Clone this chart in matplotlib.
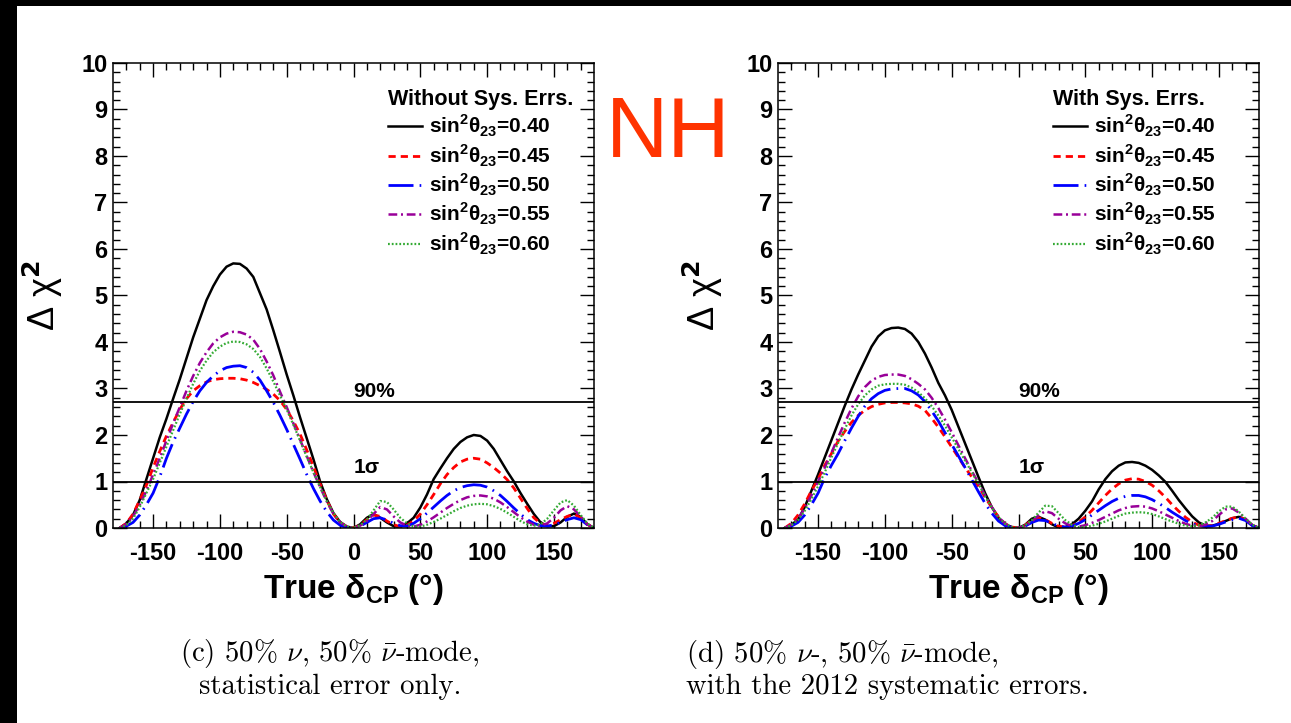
import matplotlib
matplotlib.use('Agg')
import matplotlib.pyplot as plt
from matplotlib.patches import Rectangle

plt.rcParams['font.family'] = ['Liberation Sans', 'DejaVu Sans']
plt.rcParams['font.weight'] = 'bold'
plt.rcParams['axes.unicode_minus'] = False

# ---------------- data ----------------
delta_cp = [-175, -170, -165, -160, -155, -150, -145, -140, -135, -130,
            -125, -120, -115, -110, -105, -100, -95, -90, -85, -80,
            -75, -70, -65, -60, -55, -50, -45, -40, -35, -30,
            -25, -20, -15, -10, -5, 0,
            5, 10, 15, 20, 25, 30, 35, 40, 45, 50,
            55, 60, 65, 70, 75, 80, 85, 90, 95, 100,
            105, 110, 115, 120, 125, 130, 135, 140, 145, 150,
            155, 160, 165, 170, 175, 180]

sin2_values = ['0.40', '0.45', '0.50', '0.55', '0.60']

# Without systematic errors
nosys_040 = [0.0, 0.1, 0.28, 0.6, 1.05, 1.5, 1.95, 2.35, 2.78, 3.2, 3.65, 4.1, 4.5, 4.9, 5.2, 5.45, 5.62, 5.69,
             5.68, 5.58, 5.4, 5.05, 4.7, 4.25, 3.78, 3.3, 2.85, 2.38, 1.93, 1.48, 1.0, 0.62, 0.32, 0.13, 0.03, 0.0,
             0.08, 0.22, 0.3, 0.22, 0.12, 0.04, 0.02, 0.1, 0.22, 0.44, 0.72, 1.05, 1.28, 1.5, 1.7, 1.85, 1.95, 2.0,
             1.98, 1.88, 1.7, 1.46, 1.22, 1.0, 0.75, 0.52, 0.3, 0.12, 0.04, 0.04, 0.12, 0.24, 0.31, 0.24, 0.08, 0.0]
nosys_045 = [0.0, 0.1, 0.3, 0.6, 0.92, 1.3, 1.65, 1.98, 2.27, 2.55, 2.78, 2.95, 3.06, 3.14, 3.19, 3.21, 3.22, 3.22,
             3.21, 3.18, 3.13, 3.06, 2.98, 2.88, 2.74, 2.55, 2.3, 2.02, 1.68, 1.32, 0.95, 0.6, 0.3, 0.12, 0.03, 0.0,
             0.06, 0.18, 0.28, 0.25, 0.15, 0.07, 0.03, 0.06, 0.15, 0.3, 0.5, 0.72, 0.95, 1.15, 1.3, 1.42, 1.48, 1.5,
             1.48, 1.4, 1.3, 1.18, 1.04, 0.86, 0.64, 0.42, 0.22, 0.1, 0.05, 0.1, 0.18, 0.25, 0.3, 0.22, 0.08, 0.0]
nosys_050 = [0.0, 0.04, 0.12, 0.28, 0.5, 0.75, 1.1, 1.5, 1.85, 2.15, 2.45, 2.72, 2.95, 3.13, 3.27, 3.38, 3.45, 3.48,
             3.49, 3.45, 3.35, 3.18, 2.95, 2.7, 2.42, 2.12, 1.8, 1.48, 1.15, 0.85, 0.58, 0.35, 0.17, 0.06, 0.01, 0.0,
             0.04, 0.12, 0.2, 0.22, 0.17, 0.1, 0.05, 0.04, 0.1, 0.2, 0.32, 0.45, 0.58, 0.7, 0.8, 0.87, 0.91, 0.93,
             0.92, 0.88, 0.8, 0.7, 0.57, 0.43, 0.3, 0.18, 0.1, 0.05, 0.04, 0.07, 0.12, 0.18, 0.22, 0.18, 0.07, 0.0]
nosys_055 = [0.0, 0.08, 0.25, 0.5, 0.8, 1.15, 1.5, 1.88, 2.25, 2.6, 2.95, 3.27, 3.55, 3.78, 3.97, 4.1, 4.18, 4.22,
             4.21, 4.16, 4.05, 3.85, 3.58, 3.28, 2.93, 2.6, 2.25, 1.9, 1.55, 1.2, 0.88, 0.57, 0.3, 0.12, 0.03, 0.0,
             0.05, 0.15, 0.3, 0.45, 0.4, 0.25, 0.12, 0.05, 0.03, 0.07, 0.14, 0.23, 0.33, 0.43, 0.52, 0.6, 0.66, 0.69,
             0.7, 0.68, 0.63, 0.55, 0.45, 0.34, 0.23, 0.14, 0.07, 0.05, 0.1, 0.22, 0.38, 0.47, 0.4, 0.25, 0.08, 0.0]
nosys_060 = [0.0, 0.06, 0.2, 0.45, 0.75, 1.05, 1.4, 1.75, 2.1, 2.45, 2.78, 3.1, 3.38, 3.6, 3.78, 3.9, 3.98, 4.01,
             4.0, 3.95, 3.85, 3.68, 3.43, 3.15, 2.85, 2.55, 2.22, 1.88, 1.53, 1.2, 0.88, 0.58, 0.32, 0.13, 0.03, 0.0,
             0.06, 0.18, 0.38, 0.58, 0.56, 0.4, 0.22, 0.1, 0.03, 0.03, 0.07, 0.13, 0.2, 0.28, 0.36, 0.43, 0.48, 0.51,
             0.52, 0.51, 0.47, 0.41, 0.33, 0.24, 0.15, 0.08, 0.05, 0.08, 0.2, 0.38, 0.55, 0.6, 0.48, 0.28, 0.1, 0.0]

# With systematic errors
sys_040 = [0.0, 0.07, 0.18, 0.45, 0.8, 1.15, 1.52, 1.89, 2.26, 2.63, 2.98, 3.3, 3.6, 3.9, 4.12, 4.25, 4.3, 4.31,
           4.28, 4.18, 4.0, 3.75, 3.45, 3.12, 2.85, 2.54, 2.18, 1.82, 1.46, 1.1, 0.75, 0.45, 0.22, 0.08, 0.02, 0.0,
           0.07, 0.2, 0.24, 0.18, 0.08, 0.01, 0.02, 0.08, 0.2, 0.37, 0.57, 0.83, 1.05, 1.22, 1.34, 1.41, 1.42, 1.4,
           1.34, 1.25, 1.13, 0.99, 0.8, 0.6, 0.42, 0.25, 0.12, 0.05, 0.05, 0.09, 0.15, 0.21, 0.24, 0.18, 0.06, 0.0]
sys_045 = [0.0, 0.1, 0.28, 0.52, 0.8, 1.05, 1.35, 1.6, 1.87, 2.08, 2.27, 2.42, 2.53, 2.61, 2.66, 2.69, 2.7, 2.7,
           2.69, 2.67, 2.62, 2.53, 2.36, 2.17, 1.96, 1.74, 1.52, 1.3, 1.1, 0.9, 0.66, 0.44, 0.24, 0.09, 0.02, 0.0,
           0.06, 0.17, 0.22, 0.18, 0.1, 0.04, 0.02, 0.05, 0.12, 0.24, 0.38, 0.54, 0.7, 0.84, 0.95, 1.03, 1.06, 1.05,
           1.0, 0.92, 0.8, 0.66, 0.5, 0.36, 0.23, 0.13, 0.06, 0.03, 0.05, 0.1, 0.16, 0.21, 0.24, 0.18, 0.06, 0.0]
sys_050 = [0.0, 0.04, 0.12, 0.28, 0.5, 0.75, 1.08, 1.35, 1.6, 1.88, 2.15, 2.4, 2.62, 2.78, 2.89, 2.96, 2.99, 3.0,
           3.0, 2.95, 2.86, 2.72, 2.52, 2.3, 2.05, 1.8, 1.55, 1.3, 1.04, 0.78, 0.53, 0.32, 0.15, 0.05, 0.01, 0.0,
           0.04, 0.12, 0.17, 0.16, 0.1, 0.04, 0.02, 0.04, 0.1, 0.18, 0.28, 0.38, 0.48, 0.57, 0.64, 0.68, 0.7, 0.7,
           0.67, 0.61, 0.53, 0.44, 0.34, 0.25, 0.16, 0.09, 0.05, 0.03, 0.04, 0.08, 0.13, 0.18, 0.21, 0.16, 0.05, 0.0]
sys_055 = [0.0, 0.07, 0.2, 0.42, 0.7, 1.0, 1.3, 1.62, 1.95, 2.27, 2.57, 2.83, 3.03, 3.17, 3.25, 3.29, 3.3, 3.3,
           3.27, 3.2, 3.1, 2.98, 2.8, 2.58, 2.33, 2.06, 1.78, 1.5, 1.23, 0.97, 0.7, 0.45, 0.24, 0.09, 0.02, 0.0,
           0.05, 0.14, 0.27, 0.36, 0.32, 0.2, 0.1, 0.04, 0.03, 0.06, 0.11, 0.17, 0.24, 0.31, 0.38, 0.43, 0.46, 0.47,
           0.46, 0.42, 0.36, 0.29, 0.22, 0.15, 0.09, 0.05, 0.04, 0.07, 0.15, 0.28, 0.4, 0.42, 0.33, 0.2, 0.06, 0.0]
sys_060 = [0.0, 0.06, 0.17, 0.37, 0.62, 0.9, 1.2, 1.52, 1.83, 2.13, 2.42, 2.66, 2.85, 2.98, 3.06, 3.09, 3.1, 3.1,
           3.08, 3.02, 2.92, 2.79, 2.62, 2.42, 2.2, 1.95, 1.7, 1.45, 1.2, 0.95, 0.68, 0.44, 0.23, 0.09, 0.02, 0.0,
           0.06, 0.17, 0.33, 0.48, 0.47, 0.32, 0.17, 0.07, 0.02, 0.02, 0.05, 0.09, 0.14, 0.2, 0.26, 0.31, 0.33, 0.34,
           0.33, 0.3, 0.25, 0.19, 0.14, 0.09, 0.05, 0.04, 0.06, 0.12, 0.22, 0.36, 0.46, 0.46, 0.35, 0.2, 0.07, 0.0]

cl_90 = 2.71
cl_1sigma = 1.0

panels = [
    dict(title='Without Sys. Errs.', series=[nosys_040, nosys_045, nosys_050, nosys_055, nosys_060]),
    dict(title='With Sys. Errs.', series=[sys_040, sys_045, sys_050, sys_055, sys_060]),
]

styles = [
    dict(color='black', lw=1.8, ls='-'),
    dict(color='#FF0000', lw=2.0, ls=(0, (2.6, 1.8))),
    dict(color='#0000FF', lw=2.0, ls=(0, (9.0, 2.2, 0.6, 2.2))),
    dict(color='#990099', lw=1.8, ls=(0, (3.5, 1.5, 0.8, 1.5))),
    dict(color='#33AA33', lw=1.6, ls=(0, (0.8, 0.9))),
]

W, H = 1291, 723
fig = plt.figure(figsize=(W / 100, H / 100), dpi=100)
fig.patch.set_facecolor('white')

axes_left_px = [113, 778]
for i, p in enumerate(panels):
    ax = fig.add_axes([axes_left_px[i] / W, 195 / H, 481 / W, 465 / H])
    handles = []
    for s, st, lab in zip(p['series'], styles, sin2_values):
        ln, = ax.plot(delta_cp, s, color=st['color'], lw=st['lw'], ls=st['ls'],
                      label=r'sin$^{\mathregular{2}}$θ$_{\mathregular{23}}$=' + lab)
        handles.append(ln)
    ax.axhline(cl_90, color='black', lw=1.3)
    ax.axhline(cl_1sigma, color='black', lw=1.3)
    ax.text(0, 2.82, '90%', fontsize=15, fontweight='bold', ha='left', va='baseline')
    ax.text(0, 1.18, '1σ', fontsize=15, fontweight='bold', ha='left', va='baseline')

    ax.set_xlim(-180, 180)
    ax.set_ylim(0, 10)
    ax.set_xticks([-150, -100, -50, 0, 50, 100, 150])
    ax.set_xticks(list(range(-170, 180, 10)), minor=True)
    ax.set_yticks(list(range(0, 11)))
    ax.set_yticks([k * 0.2 for k in range(51)], minor=True)
    ax.tick_params(which='both', direction='in', top=True, right=True, width=1.0)
    ax.tick_params(which='major', length=10)
    ax.tick_params(which='minor', length=5)
    ax.tick_params(axis='x', labelsize=17, pad=10)
    ax.tick_params(axis='y', labelsize=17, pad=4)
    for sp in ax.spines.values():
        sp.set_linewidth(1.1)

    ax.set_xlabel(r'True δ$_{\mathregular{CP}}$ (°)', fontsize=24, fontweight='bold')
    ax.xaxis.set_label_coords(0.5, -0.095)
    ax.set_ylabel(r'Δ χ$^{\mathbf{2}}$', fontsize=26, fontweight='normal')
    ax.yaxis.set_label_coords(-0.10 if i == 0 else -0.11, 0.5)

    leg = ax.legend(handles=handles, loc='upper left', bbox_to_anchor=(0.571, 0.944),
                    frameon=False, fontsize=15, title=p['title'],
                    title_fontproperties={'weight': 'bold', 'size': 15.5},
                    alignment='left', handlelength=1.63, handletextpad=0.34,
                    labelspacing=0.15, borderpad=0, borderaxespad=0)

fig.text(668 / W, 1 - 157 / H, 'NH', color='#FF3300', fontsize=62, fontweight='normal',
         ha='center', va='baseline')

cap_kw = dict(family='cmr10', math_fontfamily='cm', fontsize=20.7, fontweight='normal', va='baseline')
fig.text(330 / W, 1 - 661 / H, r'(c) 50% $\nu$, 50% $\bar{\nu}$-mode,', ha='center', **cap_kw)
fig.text(330 / W, 1 - 694 / H, 'statistical error only.', ha='center', **cap_kw)
fig.text(686 / W, 1 - 662 / H, r'(d) 50% $\nu$-, 50% $\bar{\nu}$-mode,', ha='left', **cap_kw)
fig.text(686 / W, 1 - 694 / H, 'with the 2012 systematic errors.', ha='left', **cap_kw)

fig.patches.append(Rectangle((0, 1 - 6 / H), 1, 6 / H, transform=fig.transFigure,
                             facecolor='black', edgecolor='none', zorder=10))
fig.patches.append(Rectangle((0, 0), 17 / W, 1, transform=fig.transFigure,
                             facecolor='black', edgecolor='none', zorder=10))

fig.savefig('out.png', dpi=100)
